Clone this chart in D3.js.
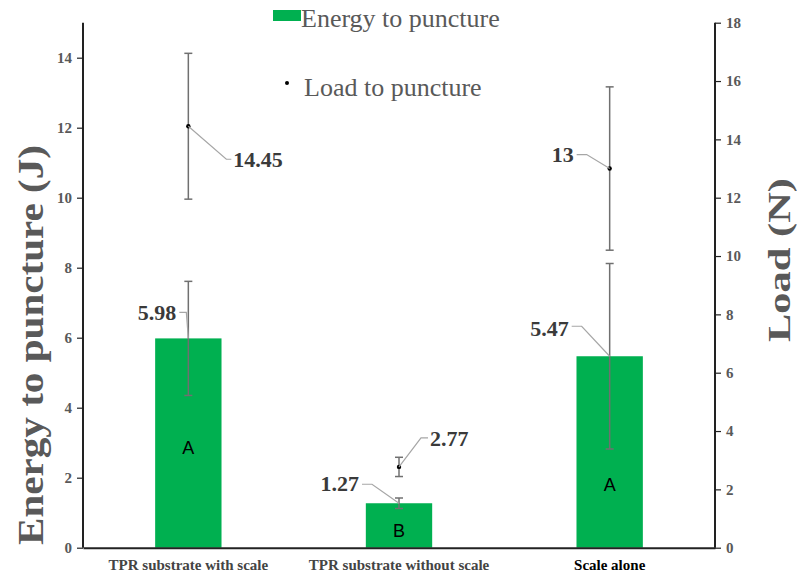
<!DOCTYPE html>
<html>
<head>
<meta charset="utf-8">
<script src="https://cdn.jsdelivr.net/npm/d3@7/dist/d3.min.js"></script>
<style>
  html, body { margin: 0; padding: 0; background: #fff; }
  svg { display: block; }
</style>
</head>
<body>
<svg id="chart" width="797" height="575"></svg>
<script>
// Samples tested
const categories = ["TPR substrate with scale", "TPR substrate without scale", "Scale alone"];
// Energy to puncture (J): mean and error
const energy = [5.98, 1.27, 5.47];
const energyErr = [1.63, 0.15, 2.65];
// Load to puncture (N): mean and error
const load = [14.45, 2.77, 13];
const loadErr = [2.5, 0.33, 2.8];
// Significance groups
const groups = ["A", "B", "A"];
// Axis ticks
const energyTicks = [0, 2, 4, 6, 8, 10, 12, 14];
const loadTicks = [0, 2, 4, 6, 8, 10, 12, 14, 16, 18];

const svg = d3.select("#chart");
const serif = "'Liberation Serif', 'Times New Roman', serif";
const sans = "'Liberation Sans', Arial, sans-serif";
const green = "#00B050";
const greyText = "#595959";

const plotLeft = 83, plotRight = 715, plotTop = 22.7, plotBottom = 547.7;

const x = d3.scaleBand().domain(categories).range([plotLeft, plotRight])
  .paddingInner(0.685).paddingOuter(0.3425);
const yE = d3.scaleLinear().domain([0, 15]).range([plotBottom, plotTop]);
const yL = d3.scaleLinear().domain([0, 18]).range([plotBottom, plotTop]);
const cx = c => x(c) + x.bandwidth() / 2;

// Bars
svg.append("g").selectAll("rect").data(categories).join("rect")
  .attr("x", c => x(c))
  .attr("width", x.bandwidth())
  .attr("y", (c, i) => yE(energy[i]))
  .attr("height", (c, i) => yE(0) - yE(energy[i]))
  .attr("fill", green);

// Group letters inside bars (anchored in energy units)
const letterAt = [2.85, 0.5, 1.8];
svg.append("g").selectAll("text").data(categories).join("text")
  .attr("x", c => cx(c))
  .attr("y", (c, i) => yE(letterAt[i]))
  .attr("dy", "0.35em")
  .attr("text-anchor", "middle")
  .attr("font-family", sans)
  .attr("font-size", 18)
  .attr("fill", "#000")
  .text((c, i) => groups[i]);

// Error bars
function errorBars(vals, errs, scale) {
  const g = svg.append("g").attr("stroke", "#707070").attr("stroke-width", 1.5).attr("fill", "none");
  categories.forEach((c, i) => {
    const xc = cx(c), y1 = scale(vals[i] + errs[i]), y0 = scale(vals[i] - errs[i]);
    g.append("line").attr("x1", xc).attr("x2", xc).attr("y1", y1).attr("y2", y0);
    g.append("line").attr("x1", xc - 4).attr("x2", xc + 4).attr("y1", y1).attr("y2", y1);
    g.append("line").attr("x1", xc - 4).attr("x2", xc + 4).attr("y1", y0).attr("y2", y0);
  });
}
errorBars(energy, energyErr, yE);
errorBars(load, loadErr, yL);

// Load markers
svg.append("g").selectAll("circle").data(categories).join("circle")
  .attr("cx", c => cx(c))
  .attr("cy", (c, i) => yL(load[i]))
  .attr("r", 2.2)
  .attr("fill", "#000");

// Value labels with leader lines; offsets are relative to the mark
function valueLabel(px, py, pts, tx, ty, anchor, text) {
  const path = d3.path();
  path.moveTo(px, py);
  pts.forEach(p => path.lineTo(px + p[0], py + p[1]));
  svg.append("path").attr("d", path.toString())
    .attr("fill", "none").attr("stroke", "#a6a6a6").attr("stroke-width", 1.2);
  svg.append("text")
    .attr("x", px + tx).attr("y", py + ty).attr("dy", "0.35em")
    .attr("text-anchor", anchor)
    .attr("font-family", serif).attr("font-weight", "bold")
    .attr("font-size", 22).attr("fill", "#3a3a3a")
    .text(text);
}
const fmt = v => String(v);
{
  const c = categories;
  // Energy labels (at bar tops)
  valueLabel(cx(c[0]), yE(energy[0]), [[-2, -26], [-9, -26]], -12, -26, "end", fmt(energy[0]));
  valueLabel(cx(c[1]), yE(energy[1]), [[-27, -19], [-37, -19]], -40, -20, "end", fmt(energy[1]));
  valueLabel(cx(c[2]), yE(energy[2]), [[-28, -30], [-38, -30]], -41, -28, "end", fmt(energy[2]));
  // Load labels (at markers)
  valueLabel(cx(c[0]), yL(load[0]), [[38, 33], [43, 33]], 45, 33, "start", fmt(load[0]));
  valueLabel(cx(c[1]), yL(load[1]), [[22, -29], [29, -29]], 31, -29, "start", fmt(load[1]));
  valueLabel(cx(c[2]), yL(load[2]), [[-23, -14], [-33, -14]], -36, -14, "end", fmt(load[2]));
}

// Minor tick positions
const minorE = d3.range(0, 15.01, 0.4).map(v => +v.toFixed(2));
const minorL = d3.range(0, 18.01, 0.4).map(v => +v.toFixed(2));

// Left axis
const gl = svg.append("g").attr("transform", `translate(${plotLeft},0)`);
gl.call(d3.axisLeft(yE).tickValues(minorE).tickSize(3).tickFormat(""));
gl.call(d3.axisLeft(yE).tickValues(energyTicks).tickSize(6).tickPadding(5).tickFormat(d3.format("d")));
gl.selectAll(".domain").attr("d", `M0,${plotTop}V${plotBottom}`).attr("stroke", "#222").attr("stroke-width", 2);
gl.selectAll(".tick line").attr("stroke", "#222").attr("stroke-width", 1.2);
gl.selectAll("text").attr("font-family", serif).attr("font-weight", "bold")
  .attr("font-size", 15).attr("fill", greyText);

// Right axis
const gr = svg.append("g").attr("transform", `translate(${plotRight},0)`);
gr.call(d3.axisRight(yL).tickValues(minorL).tickSize(3).tickFormat(""));
gr.call(d3.axisRight(yL).tickValues(loadTicks).tickSize(6).tickPadding(5).tickFormat(d3.format("d")));
gr.selectAll(".domain").attr("d", `M0,${plotTop}V${plotBottom}`).attr("stroke", "#222").attr("stroke-width", 2);
gr.selectAll(".tick line").attr("stroke", "#222").attr("stroke-width", 1.2);
gr.selectAll("text").attr("font-family", serif).attr("font-weight", "bold")
  .attr("font-size", 15).attr("fill", greyText);

// Bottom axis
const gb = svg.append("g").attr("transform", `translate(0,${plotBottom})`);
gb.call(d3.axisBottom(x).tickSize(0).tickPadding(12));
gb.select(".domain").attr("stroke", "#222").attr("stroke-width", 2);
gb.selectAll("text").attr("font-family", serif).attr("font-weight", "bold")
  .attr("font-size", 15).attr("fill", (d, i) => i === 2 ? "#000" : "#444");

// Axis titles
svg.append("text")
  .attr("transform", `translate(43,345) rotate(-90)`)
  .attr("text-anchor", "middle")
  .attr("font-family", serif).attr("font-weight", "bold")
  .attr("font-size", 35).attr("fill", greyText)
  .attr("textLength", 400).attr("lengthAdjust", "spacingAndGlyphs")
  .text("Energy to puncture (J)");

svg.append("text")
  .attr("transform", `translate(790,260) rotate(-90)`)
  .attr("text-anchor", "middle")
  .attr("font-family", serif).attr("font-weight", "bold")
  .attr("font-size", 32).attr("fill", greyText)
  .attr("textLength", 164).attr("lengthAdjust", "spacingAndGlyphs")
  .text("Load (N)");

// Legend
const lg = svg.append("g");
lg.append("rect").attr("x", 273).attr("y", 10).attr("width", 28).attr("height", 11).attr("fill", green);
lg.append("text").attr("x", 301).attr("y", 27)
  .attr("font-family", serif).attr("font-size", 26).attr("fill", greyText)
  .text("Energy to puncture");
lg.append("circle").attr("cx", 287).attr("cy", 83).attr("r", 2).attr("fill", "#000");
lg.append("text").attr("x", 304).attr("y", 96)
  .attr("font-family", serif).attr("font-size", 26).attr("fill", greyText)
  .text("Load to puncture");
</script>
</body>
</html>
